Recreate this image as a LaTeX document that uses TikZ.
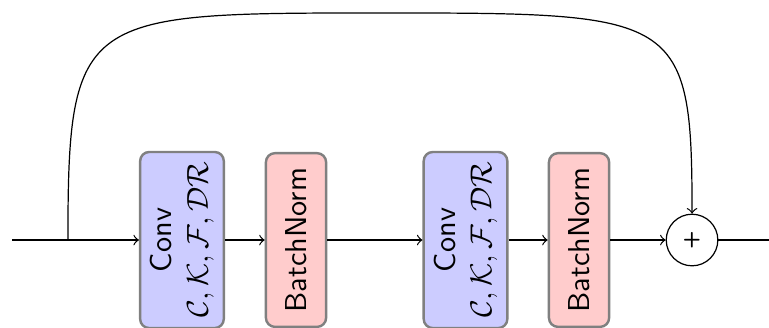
\documentclass[tikz,border=0pt]{standalone}

\begin{document}
\begin{tikzpicture}
    \useasboundingbox (0,-1.012) rectangle (8.942,2.791);
    \tikzset{
        BlockStyle/.style = {%
            shape= rectangle,
            rounded corners= 3pt,
            draw= gray,
            thick,
            rotate= 90,
            align= center,
            font= \sffamily,
            minimum width = 2.02cm},
        ConvStyle/.style = {BlockStyle, fill= blue!20, minimum height = 0.95cm},
        NormStyle/.style = {BlockStyle, fill= red!20, minimum height = 0.70cm},
        SumStyle/.style = {%
            shape= circle,
            draw,
            inner sep= 0pt,
            font= \sffamily\bfseries\scriptsize,
            minimum size = 0.6cm}}
    \node[ConvStyle] (conv1) at (2.116,0) {Conv\\ $\mathcal{C},\mathcal{K},\mathcal{F},\mathcal{DR}$};
    \node[NormStyle] (bn1) at (3.442,0) {BatchNorm};
    \node[ConvStyle] (conv2) at (5.413,0) {Conv\\ $\mathcal{C},\mathcal{K},\mathcal{F},\mathcal{DR}$};
    \node[NormStyle] (bn2) at (6.733,0) {BatchNorm};
    \node[SumStyle] (sum) at (8.047,0) {+};
    \coordinate (in) at (0.14,0);
    \coordinate (split) at (0.79,0);
    \coordinate (out) at (8.942,0);
    \coordinate (top) at (4.419,2.64);
    \draw[->] (in) -- (conv1);
    \draw[->] (conv1) -- (bn1);
    \draw[->] (bn1) -- (conv2);
    \draw[->] (conv2) -- (bn2);
    \draw[->] (bn2) -- (sum);
    \draw (sum) -- (out);
    % skip connection around both blocks
    \draw[->] (split) .. controls (split |- top) and ([xshift=-3.47cm]top) .. (top)
        .. controls ([xshift=3.47cm]top) and (sum |- top) .. (sum);
\end{tikzpicture}
\end{document}
